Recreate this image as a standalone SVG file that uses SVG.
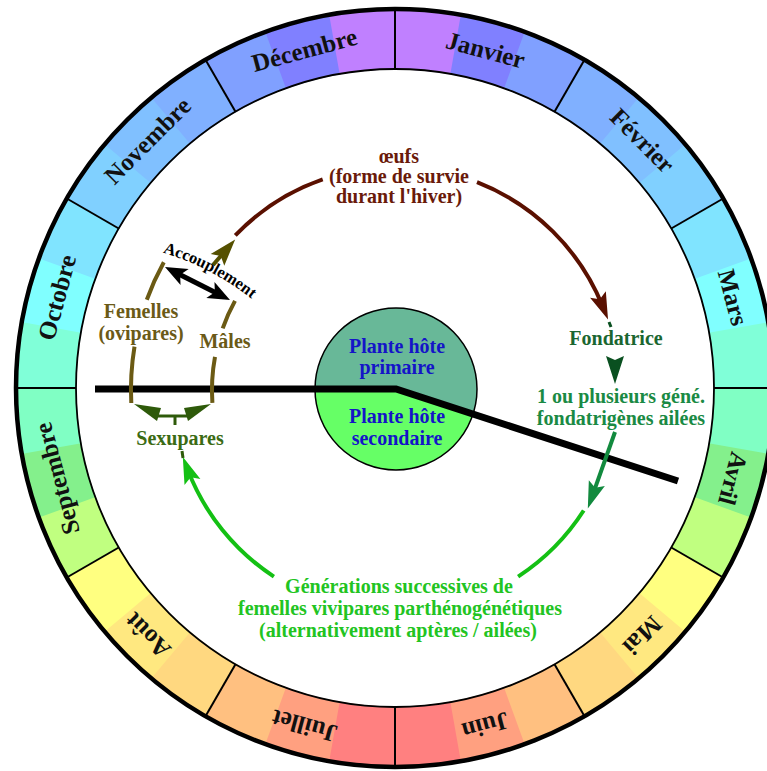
<svg xmlns="http://www.w3.org/2000/svg" width="767" height="771" viewBox="0 0 767 771">
<style>
text{font-family:"Liberation Serif","Times New Roman",serif;font-weight:bold}
.m{font-size:25px;fill:#111;text-anchor:middle}
.t{font-size:20px;text-anchor:middle}
.b{fill:none;stroke-width:61;stroke-dasharray:62 2200}
.sep{stroke:#000;stroke-width:2}
.arc{fill:none;stroke-width:4}
</style>
<defs>
<marker id="hBrown" markerUnits="userSpaceOnUse" viewBox="-30 -10 32 20" markerWidth="32" markerHeight="20" refX="-14" refY="0" orient="auto" overflow="visible"><path d="M0,0 L-27,-8.5 L-22,0 L-27,8.5 Z" fill="#5a1000"/></marker>
<marker id="hGreen" markerUnits="userSpaceOnUse" viewBox="-30 -10 32 20" markerWidth="32" markerHeight="20" refX="-14" refY="0" orient="auto" overflow="visible"><path d="M0,0 L-27,-8.5 L-22,0 L-27,8.5 Z" fill="#14c014"/></marker>
<marker id="hMid" markerUnits="userSpaceOnUse" viewBox="-30 -10 32 20" markerWidth="32" markerHeight="20" refX="-14" refY="0" orient="auto" overflow="visible"><path d="M0,0 L-27,-8.5 L-22,0 L-27,8.5 Z" fill="#128a3e"/></marker>
<marker id="hOlive" markerUnits="userSpaceOnUse" viewBox="-30 -10 32 20" markerWidth="32" markerHeight="20" refX="-14" refY="0" orient="auto" overflow="visible"><path d="M0,0 L-27,-9 L-22,0 L-27,9 Z" fill="#555000"/></marker>
<marker id="hBlack" markerUnits="userSpaceOnUse" viewBox="-26 -12 28 24" markerWidth="28" markerHeight="24" refX="-12" refY="0" orient="auto-start-reverse" overflow="visible"><path d="M0,0 L-22,-9 L-17,0 L-22,9 Z" fill="#000"/></marker>
</defs>
<rect width="767" height="771" fill="#fff"/>

<g id="ring">
<circle class="b" cx="395" cy="388" r="349" stroke="#c080ff" transform="rotate(-90 395 388)"/>
<circle class="b" cx="395" cy="388" r="349" stroke="#8080ff" transform="rotate(-80 395 388)"/>
<circle class="b" cx="395" cy="388" r="349" stroke="#80a0ff" transform="rotate(-70 395 388)"/>
<circle class="b" cx="395" cy="388" r="349" stroke="#80b0ff" transform="rotate(-60 395 388)"/>
<circle class="b" cx="395" cy="388" r="349" stroke="#80c0ff" transform="rotate(-50 395 388)"/>
<circle class="b" cx="395" cy="388" r="349" stroke="#80d0ff" transform="rotate(-40 395 388)"/>
<circle class="b" cx="395" cy="388" r="349" stroke="#80e4ff" transform="rotate(-30 395 388)"/>
<circle class="b" cx="395" cy="388" r="349" stroke="#80ffff" transform="rotate(-20 395 388)"/>
<circle class="b" cx="395" cy="388" r="349" stroke="#80ffd8" transform="rotate(-10 395 388)"/>
<circle class="b" cx="395" cy="388" r="349" stroke="#80ffc4" transform="rotate(0 395 388)"/>
<circle class="b" cx="395" cy="388" r="349" stroke="#84f08c" transform="rotate(10 395 388)"/>
<circle class="b" cx="395" cy="388" r="349" stroke="#c0ff80" transform="rotate(20 395 388)"/>
<circle class="b" cx="395" cy="388" r="349" stroke="#ffff80" transform="rotate(30 395 388)"/>
<circle class="b" cx="395" cy="388" r="349" stroke="#ffe880" transform="rotate(40 395 388)"/>
<circle class="b" cx="395" cy="388" r="349" stroke="#ffd880" transform="rotate(50 395 388)"/>
<circle class="b" cx="395" cy="388" r="349" stroke="#ffc080" transform="rotate(60 395 388)"/>
<circle class="b" cx="395" cy="388" r="349" stroke="#ffa080" transform="rotate(70 395 388)"/>
<circle class="b" cx="395" cy="388" r="349" stroke="#ff8080" transform="rotate(80 395 388)"/>
<circle class="b" cx="395" cy="388" r="349" stroke="#ff8080" transform="rotate(90 395 388)"/>
<circle class="b" cx="395" cy="388" r="349" stroke="#ffa080" transform="rotate(100 395 388)"/>
<circle class="b" cx="395" cy="388" r="349" stroke="#ffc080" transform="rotate(110 395 388)"/>
<circle class="b" cx="395" cy="388" r="349" stroke="#ffd880" transform="rotate(120 395 388)"/>
<circle class="b" cx="395" cy="388" r="349" stroke="#ffe880" transform="rotate(130 395 388)"/>
<circle class="b" cx="395" cy="388" r="349" stroke="#ffff80" transform="rotate(140 395 388)"/>
<circle class="b" cx="395" cy="388" r="349" stroke="#c0ff80" transform="rotate(150 395 388)"/>
<circle class="b" cx="395" cy="388" r="349" stroke="#84f08c" transform="rotate(160 395 388)"/>
<circle class="b" cx="395" cy="388" r="349" stroke="#80ffc4" transform="rotate(170 395 388)"/>
<circle class="b" cx="395" cy="388" r="349" stroke="#80ffd8" transform="rotate(180 395 388)"/>
<circle class="b" cx="395" cy="388" r="349" stroke="#80ffff" transform="rotate(190 395 388)"/>
<circle class="b" cx="395" cy="388" r="349" stroke="#80e4ff" transform="rotate(200 395 388)"/>
<circle class="b" cx="395" cy="388" r="349" stroke="#80d0ff" transform="rotate(210 395 388)"/>
<circle class="b" cx="395" cy="388" r="349" stroke="#80c0ff" transform="rotate(220 395 388)"/>
<circle class="b" cx="395" cy="388" r="349" stroke="#80b0ff" transform="rotate(230 395 388)"/>
<circle class="b" cx="395" cy="388" r="349" stroke="#80a0ff" transform="rotate(240 395 388)"/>
<circle class="b" cx="395" cy="388" r="349" stroke="#8080ff" transform="rotate(250 395 388)"/>
<circle class="b" cx="395" cy="388" r="349" stroke="#c080ff" transform="rotate(260 395 388)"/>
<circle cx="395" cy="388" r="379" fill="none" stroke="#000" stroke-width="4.5"/>
<circle cx="395" cy="388" r="319" fill="none" stroke="#000" stroke-width="1.8"/>
<line class="sep" x1="395" y1="69" x2="395" y2="9" transform="rotate(0 395 388)"/>
<line class="sep" x1="395" y1="69" x2="395" y2="9" transform="rotate(30 395 388)"/>
<line class="sep" x1="395" y1="69" x2="395" y2="9" transform="rotate(60 395 388)"/>
<line class="sep" x1="395" y1="69" x2="395" y2="9" transform="rotate(90 395 388)"/>
<line class="sep" x1="395" y1="69" x2="395" y2="9" transform="rotate(120 395 388)"/>
<line class="sep" x1="395" y1="69" x2="395" y2="9" transform="rotate(150 395 388)"/>
<line class="sep" x1="395" y1="69" x2="395" y2="9" transform="rotate(180 395 388)"/>
<line class="sep" x1="395" y1="69" x2="395" y2="9" transform="rotate(210 395 388)"/>
<line class="sep" x1="395" y1="69" x2="395" y2="9" transform="rotate(240 395 388)"/>
<line class="sep" x1="395" y1="69" x2="395" y2="9" transform="rotate(270 395 388)"/>
<line class="sep" x1="395" y1="69" x2="395" y2="9" transform="rotate(300 395 388)"/>
<line class="sep" x1="395" y1="69" x2="395" y2="9" transform="rotate(330 395 388)"/>
<text class="m" x="395" y="46.5" transform="rotate(15 395 388)">Janvier</text>
<text class="m" x="395" y="46.5" transform="rotate(45 395 388)">Février</text>
<text class="m" x="395" y="46.5" transform="rotate(75 395 388)">Mars</text>
<text class="m" x="395" y="46.5" transform="rotate(105 395 388)">Avril</text>
<text class="m" x="395" y="46.5" transform="rotate(135 395 388)">Mai</text>
<text class="m" x="395" y="46.5" transform="rotate(165 395 388)">Juin</text>
<text class="m" x="395" y="46.5" transform="rotate(195 395 388)">Juillet</text>
<text class="m" x="395" y="46.5" transform="rotate(225 395 388)">Août</text>
<text class="m" x="395" y="46.5" transform="rotate(255 395 388)">Septembre</text>
<text class="m" x="395" y="46.5" transform="rotate(285 395 388)">Octobre</text>
<text class="m" x="395" y="46.5" transform="rotate(315 395 388)">Novembre</text>
<text class="m" x="395" y="46.5" transform="rotate(345 395 388)">Décembre</text>
</g>

<g id="plante">
<circle cx="396" cy="389" r="81" fill="#66ff66"/>
<path d="M315,389 L396,389 L473,414.1 A81,81 0 1,0 315,389 Z" fill="#68b898"/>
<circle cx="396" cy="389" r="81" fill="none" stroke="#000" stroke-width="1.5"/>
<text class="t" x="397" y="353" fill="#1414c8">Plante hôte</text>
<text class="t" x="397" y="374" fill="#1414c8">primaire</text>
<text class="t" x="397" y="423" fill="#1414c8">Plante hôte</text>
<text class="t" x="397" y="445" fill="#1414c8">secondaire</text>
</g>

<g id="limite">
<polyline points="95,389 396,389 678,481" fill="none" stroke="#000" stroke-width="7" stroke-linejoin="miter"/>
</g>

<g id="connectors">
<path class="arc" d="M235.3,235.4 A223,223 0 0,1 322.7,179.4" stroke="#5a1000"/>
<path class="arc" d="M477,182.2 A223,223 0 0,1 602.8,306.6" stroke="#5a1000" marker-end="url(#hBrown)"/>
<line x1="609" y1="322" x2="611" y2="327" stroke="#0a5020" stroke-width="3"/>
<path d="M606,356 L615,360 L624,356 L615,384 Z" fill="#0a5020"/>
<line x1="615" y1="432" x2="592.5" y2="495.4" stroke="#128a3e" stroke-width="4" marker-end="url(#hMid)"/>
<path class="arc" d="M583.7,510.5 A223,223 0 0,1 518.1,576.6" stroke="#14c014"/>
<path class="arc" d="M273.9,576.6 A223,223 0 0,1 187.8,469.9" stroke="#14c014" marker-end="url(#hGreen)"/>
<line x1="182" y1="451" x2="183" y2="458" stroke="#2e5a0a" stroke-width="3"/>
<path d="M134,404 L161,408 L157,421 Z" fill="#2e5a0a"/>
<path d="M211,404 L184,408 L188,421 Z" fill="#2e5a0a"/>
<line x1="157" y1="416" x2="188" y2="416" stroke="#2e5a0a" stroke-width="3"/>
<line x1="175" y1="416" x2="175" y2="425" stroke="#2e5a0a" stroke-width="3"/>
<path class="arc" d="M163.8,262.3 A265,265 0 0,0 146.8,299.8" stroke="#6b5a14"/>
<path class="arc" d="M134.5,346.7 A265,265 0 0,0 131.3,403" stroke="#6b5a14"/>
<path class="arc" d="M235,300.9 A184,184 0 0,0 222.7,328.3" stroke="#6b5a14"/>
<path class="arc" d="M215,356.8 A184,184 0 0,0 212.4,402.8" stroke="#6b5a14"/>
<line x1="213" y1="265" x2="226" y2="250" stroke="#555000" stroke-width="4" marker-end="url(#hOlive)"/>
<line x1="175.7" y1="272.4" x2="219.3" y2="294.6" stroke="#000" stroke-width="5" marker-start="url(#hBlack)" marker-end="url(#hBlack)"/>
</g>

<g id="oeufs" fill="#6a1a0a">
<text class="t" x="399" y="163">œufs</text>
<text class="t" x="399" y="183">(forme de survie</text>
<text class="t" x="399" y="203">durant l'hiver)</text>
</g>
<g id="fondatrice">
<text class="t" x="616" y="345" fill="#1a6630">Fondatrice</text>
</g>
<g id="fondatrigenes" fill="#1a8a44">
<text class="t" x="621" y="403">1 ou plusieurs géné.</text>
<text class="t" x="621" y="425">fondatrigènes ailées</text>
</g>
<g id="generations" fill="#22c422">
<text class="t" x="399" y="593">Générations successives de</text>
<text class="t" x="400" y="615">femelles vivipares parthénogénétiques</text>
<text class="t" x="398" y="637">(alternativement aptères / ailées)</text>
</g>
<g id="sexupares">
<text class="t" x="180" y="445" fill="#3b6b14">Sexupares</text>
</g>
<g id="femelles" fill="#6b5a17">
<text class="t" x="141" y="318">Femelles</text>
<text class="t" x="141" y="340">(ovipares)</text>
</g>
<g id="males">
<text class="t" x="225" y="348" fill="#6b5a17">Mâles</text>
</g>
<g id="accouplement">
<path id="accPath" d="M161,252 Q212,267 253,300" fill="none"/>
<text font-size="16.5" fill="#000" text-anchor="middle"><textPath href="#accPath" startOffset="50%">Accouplement</textPath></text>
</g>
</svg>
